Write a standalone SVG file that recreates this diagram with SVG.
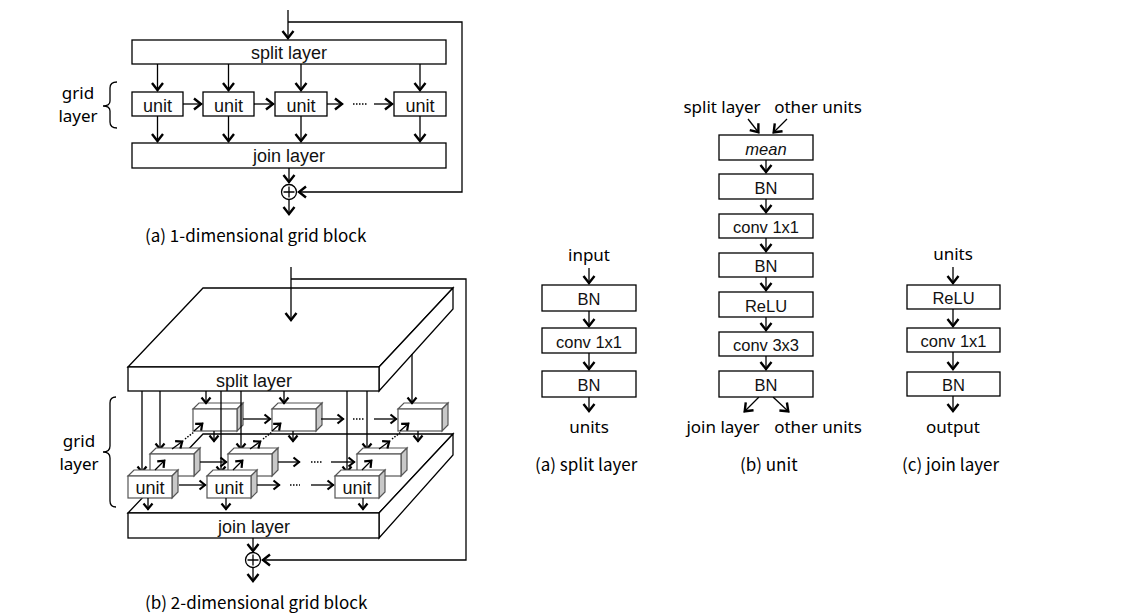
<svg xmlns="http://www.w3.org/2000/svg" xmlns:xlink="http://www.w3.org/1999/xlink" width="1127" height="614" viewBox="0 0 1127 614">
<style>
.bx{fill:#fff;stroke:#000;stroke-width:1.3}
.ln{fill:none;stroke:#000;stroke-width:1.3}
.dt{fill:none;stroke:#000;stroke-width:1.5;stroke-dasharray:1.5 1.5}
.t{font-family:"Liberation Sans",Arial,sans-serif;font-size:16.5px;fill:#111;text-anchor:middle}
.tl{font-family:"Liberation Sans",Arial,sans-serif;font-size:18px;fill:#111;text-anchor:middle}
.lb{font-family:"Noto Sans",sans-serif;font-size:17px;fill:#000;text-anchor:middle}
.cap{font-family:"Noto Sans CJK JP","Noto Sans",sans-serif;font-size:17px;fill:#000}
.cube{stroke:#555;stroke-width:1.2}
</style>
<defs>
<marker id="a" markerUnits="userSpaceOnUse" viewBox="-12 -8 16 16" markerWidth="16" markerHeight="16" refX="1" refY="0" orient="auto" overflow="visible"><path d="M-7,-5.5 L0,0 L-7,5.5" fill="none" stroke="#000" stroke-width="2.4"/></marker>
<marker id="b" markerUnits="userSpaceOnUse" viewBox="-12 -8 16 16" markerWidth="16" markerHeight="16" refX="1" refY="0" orient="auto" overflow="visible"><path d="M-5.5,-4.5 L0,0 L-5.5,4.5" fill="none" stroke="#000" stroke-width="2.2"/></marker>
<g id="cube" class="cube">
<path d="M0,0 L6,-6 L50,-6 L44,0 Z" fill="#fff"/>
<path d="M44,0 L50,-6 L50,16 L44,22 Z" fill="#c8c8c8"/>
<rect x="0" y="0" width="44" height="22" fill="#fff"/>
</g>
</defs>

<!-- ===== (a) 1-dimensional grid block ===== -->
<g id="oneD-connectors">
<polyline class="ln" points="288,22 462,22 462,192 298,192" marker-end="url(#a)"/>
<line class="ln" x1="288" y1="10" x2="288" y2="39" marker-end="url(#a)"/>
<line class="ln" x1="157.5" y1="64" x2="157.5" y2="91" marker-end="url(#a)"/>
<line class="ln" x1="228.5" y1="64" x2="228.5" y2="91" marker-end="url(#a)"/>
<line class="ln" x1="301" y1="64" x2="301" y2="91" marker-end="url(#a)"/>
<line class="ln" x1="420" y1="64" x2="420" y2="91" marker-end="url(#a)"/>
<line class="ln" x1="157.5" y1="116" x2="157.5" y2="142" marker-end="url(#a)"/>
<line class="ln" x1="228.5" y1="116" x2="228.5" y2="142" marker-end="url(#a)"/>
<line class="ln" x1="301" y1="116" x2="301" y2="142" marker-end="url(#a)"/>
<line class="ln" x1="420" y1="116" x2="420" y2="142" marker-end="url(#a)"/>
<line class="ln" x1="183" y1="104" x2="202" y2="104" marker-end="url(#a)"/>
<line class="ln" x1="254" y1="104" x2="274" y2="104" marker-end="url(#a)"/>
<line class="ln" x1="327" y1="104" x2="343" y2="104" marker-end="url(#a)"/>
<line class="dt" x1="353" y1="104" x2="368" y2="104"/>
<line class="ln" x1="374" y1="104" x2="393" y2="104" marker-end="url(#a)"/>
<line class="ln" x1="289" y1="168" x2="289" y2="183" marker-end="url(#a)"/>
<line class="ln" x1="289" y1="200" x2="289" y2="215" marker-end="url(#a)"/>
</g>
<g id="oneD-split"><rect class="bx" x="132" y="40" width="314" height="24"/><text class="tl" x="289" y="59">split layer</text></g>
<g id="oneD-unit1"><rect class="bx" x="132" y="92" width="51" height="24"/><text class="tl" x="157.5" y="112">unit</text></g>
<g id="oneD-unit2"><rect class="bx" x="203" y="92" width="51" height="24"/><text class="tl" x="228.5" y="112">unit</text></g>
<g id="oneD-unit3"><rect class="bx" x="275" y="92" width="52" height="24"/><text class="tl" x="301" y="112">unit</text></g>
<g id="oneD-unit4"><rect class="bx" x="394" y="92" width="52" height="24"/><text class="tl" x="420" y="112">unit</text></g>
<g id="oneD-join"><rect class="bx" x="132" y="143" width="314" height="25"/><text class="tl" x="289" y="162">join layer</text></g>
<g id="oneD-sum"><circle class="bx" cx="289" cy="192" r="7.5"/><path class="ln" d="M283.5,192 H294.5 M289,186.5 V197.5"/></g>
<g id="oneD-brace">
<path class="ln" d="M117,82 Q110,82 110,88 L110,101 Q110,106 103,106 Q110,106 110,111 L110,122 Q110,128 117,128"/>
<text class="lb" x="78" y="99">grid</text>
<text class="lb" x="78" y="122">layer</text>
</g>
<text class="cap" x="145" y="242">(a) 1-dimensional grid block</text>

<!-- ===== (b) 2-dimensional grid block ===== -->
<g id="twoD-loop">
<polyline class="ln" points="291,279 466,279 466,560 262,560" marker-end="url(#a)"/>
</g>
<g id="twoD-join">
<path class="bx" d="M128,513 L203,434 L453,434 L379,513 Z"/>
<path class="bx" d="M379,513 L453,434 L453,455 L379,538 Z"/>
<rect class="bx" x="128" y="513" width="251" height="25"/>
<text class="tl" x="254" y="533">join layer</text>
</g>
<g id="twoD-split">
<path class="bx" d="M128,367 L203,288 L453,288 L379,367 Z"/>
<path class="bx" d="M379,367 L453,288 L453,309 L379,391 Z"/>
<rect class="bx" x="128" y="367" width="251" height="24"/>
<text class="tl" x="254" y="387">split layer</text>
</g>
<g id="twoD-input"><line class="ln" x1="291" y1="267" x2="291" y2="321" marker-end="url(#a)"/></g>

<g id="u-back-1"><use xlink:href="#cube" href="#cube" x="193" y="409"/></g>
<g id="u-back-2"><use xlink:href="#cube" href="#cube" x="272" y="409"/></g>
<g id="u-back-3"><use xlink:href="#cube" href="#cube" x="398" y="409"/></g>

<g id="twoD-connectors-back">
<line class="ln" x1="206" y1="391" x2="206" y2="404" marker-end="url(#b)"/>
<line class="ln" x1="284" y1="391" x2="284" y2="404" marker-end="url(#b)"/>
<line class="ln" x1="412" y1="354" x2="412" y2="404" marker-end="url(#b)"/>
<line class="ln" x1="214" y1="431" x2="214" y2="442" marker-end="url(#b)"/>
<line class="ln" x1="293" y1="431" x2="293" y2="442" marker-end="url(#b)"/>
<line class="ln" x1="418" y1="431" x2="418" y2="442" marker-end="url(#b)"/>
<line class="ln" x1="243" y1="419" x2="271" y2="419" marker-end="url(#b)"/>
<line class="ln" x1="321" y1="419" x2="344" y2="419" marker-end="url(#b)"/>
<line class="dt" x1="353" y1="419" x2="365" y2="419"/>
<line class="ln" x1="374" y1="419" x2="397" y2="419" marker-end="url(#b)"/>
<line class="ln" x1="142" y1="391" x2="142" y2="473" marker-end="url(#b)"/>
<line class="ln" x1="160" y1="391" x2="160" y2="450" marker-end="url(#b)"/>
<line class="ln" x1="221" y1="391" x2="221" y2="473" marker-end="url(#b)"/>
<line class="ln" x1="241" y1="391" x2="241" y2="450" marker-end="url(#b)"/>
<line class="ln" x1="347" y1="391" x2="347" y2="473" marker-end="url(#b)"/>
<line class="ln" x1="367" y1="391" x2="367" y2="450" marker-end="url(#b)"/>
</g>

<g id="u-mid-1"><use xlink:href="#cube" href="#cube" x="150" y="454"/></g>
<g id="u-mid-2"><use xlink:href="#cube" href="#cube" x="228" y="454"/></g>
<g id="u-mid-3"><use xlink:href="#cube" href="#cube" x="357" y="454"/></g>

<g id="twoD-connectors-mid">
<line class="ln" x1="200" y1="462" x2="227" y2="462" marker-end="url(#b)"/>
<line class="ln" x1="278" y1="462" x2="300" y2="462" marker-end="url(#b)"/>
<line class="dt" x1="311" y1="462" x2="322" y2="462"/>
<line class="ln" x1="331" y1="462" x2="355" y2="462" marker-end="url(#b)"/>
<line class="ln" x1="172" y1="449" x2="183" y2="441" marker-end="url(#b)"/>
<line class="dt" x1="185" y1="439" x2="194" y2="432"/>
<line class="ln" x1="194" y1="431" x2="203" y2="423" marker-end="url(#b)"/>
<line class="ln" x1="250" y1="449" x2="261" y2="441" marker-end="url(#b)"/>
<line class="dt" x1="263" y1="439" x2="272" y2="432"/>
<line class="ln" x1="272" y1="431" x2="281" y2="423" marker-end="url(#b)"/>
<line class="ln" x1="379" y1="449" x2="390" y2="441" marker-end="url(#b)"/>
<line class="dt" x1="392" y1="439" x2="401" y2="432"/>
<line class="ln" x1="400" y1="431" x2="409" y2="423" marker-end="url(#b)"/>
</g>

<g id="u-front-1"><use xlink:href="#cube" href="#cube" x="128" y="476"/><text class="tl" x="150" y="494">unit</text></g>
<g id="u-front-2"><use xlink:href="#cube" href="#cube" x="207" y="476"/><text class="tl" x="229" y="494">unit</text></g>
<g id="u-front-3"><use xlink:href="#cube" href="#cube" x="335" y="476"/><text class="tl" x="357" y="494">unit</text></g>

<g id="twoD-connectors-front">
<line class="ln" x1="179" y1="485" x2="206" y2="485" marker-end="url(#b)"/>
<line class="ln" x1="257" y1="485" x2="280" y2="485" marker-end="url(#b)"/>
<line class="dt" x1="290" y1="485" x2="300" y2="485"/>
<line class="ln" x1="311" y1="485" x2="334" y2="485" marker-end="url(#b)"/>
<line class="ln" x1="155" y1="470" x2="165" y2="460" marker-end="url(#b)"/>
<line class="ln" x1="233" y1="470" x2="243" y2="460" marker-end="url(#b)"/>
<line class="ln" x1="362" y1="470" x2="372" y2="460" marker-end="url(#b)"/>
<line class="ln" x1="148" y1="498" x2="148" y2="510" marker-end="url(#b)"/>
<line class="ln" x1="226" y1="498" x2="226" y2="510" marker-end="url(#b)"/>
<line class="ln" x1="363" y1="498" x2="363" y2="510" marker-end="url(#b)"/>
<line class="ln" x1="253" y1="538" x2="253" y2="552" marker-end="url(#a)"/>
<line class="ln" x1="253" y1="568" x2="253" y2="582" marker-end="url(#a)"/>
</g>
<g id="twoD-sum"><circle class="bx" cx="253" cy="560" r="7.5"/><path class="ln" d="M247.5,560 H258.5 M253,554.5 V565.5"/></g>
<g id="twoD-brace">
<path class="ln" d="M116,397 Q110,397 110,403 L110,446 Q110,452 103,452 Q110,452 110,458 L110,501 Q110,507 116,507"/>
<text class="lb" x="79" y="447">grid</text>
<text class="lb" x="79" y="470">layer</text>
</g>
<text class="cap" x="145" y="609">(b) 2-dimensional grid block</text>

<!-- ===== panels ===== -->
<g id="panel-connectors">
<line class="ln" x1="589" y1="268" x2="589" y2="284" marker-end="url(#a)"/>
<line class="ln" x1="589" y1="311" x2="589" y2="327" marker-end="url(#a)"/>
<line class="ln" x1="589" y1="353" x2="589" y2="370" marker-end="url(#a)"/>
<line class="ln" x1="589" y1="397" x2="589" y2="412" marker-end="url(#a)"/>

<line class="ln" x1="748" y1="119" x2="759" y2="133" marker-end="url(#a)"/>
<line class="ln" x1="787" y1="119" x2="773" y2="133" marker-end="url(#a)"/>
<line class="ln" x1="766" y1="160" x2="766" y2="173" marker-end="url(#a)"/>
<line class="ln" x1="766" y1="199" x2="766" y2="213" marker-end="url(#a)"/>
<line class="ln" x1="766" y1="238" x2="766" y2="252" marker-end="url(#a)"/>
<line class="ln" x1="766" y1="277" x2="766" y2="291" marker-end="url(#a)"/>
<line class="ln" x1="766" y1="317" x2="766" y2="331" marker-end="url(#a)"/>
<line class="ln" x1="766" y1="356" x2="766" y2="370" marker-end="url(#a)"/>
<line class="ln" x1="759" y1="397" x2="744" y2="412" marker-end="url(#a)"/>
<line class="ln" x1="773" y1="397" x2="789" y2="412" marker-end="url(#a)"/>

<line class="ln" x1="953" y1="267" x2="953" y2="284" marker-end="url(#a)"/>
<line class="ln" x1="953" y1="309" x2="953" y2="327" marker-end="url(#a)"/>
<line class="ln" x1="953" y1="352" x2="953" y2="370" marker-end="url(#a)"/>
<line class="ln" x1="953" y1="396" x2="953" y2="412" marker-end="url(#a)"/>
</g>

<g id="sp-input"><text class="lb" x="589" y="261">input</text></g>
<g id="sp-bn1"><rect class="bx" x="542" y="285" width="94" height="26"/><text class="t" x="589" y="305">BN</text></g>
<g id="sp-conv"><rect class="bx" x="542" y="328" width="94" height="25"/><text class="t" x="589" y="348">conv 1x1</text></g>
<g id="sp-bn2"><rect class="bx" x="542" y="371" width="94" height="26"/><text class="t" x="589" y="391">BN</text></g>
<g id="sp-units"><text class="lb" x="589" y="433">units</text></g>
<text class="cap" x="535" y="471">(a) split layer</text>

<g id="u-in-split"><text class="lb" x="722" y="113">split layer</text></g>
<g id="u-in-other"><text class="lb" x="818" y="113">other units</text></g>
<g id="u-mean"><rect class="bx" x="719" y="135" width="94" height="25"/><text class="t" x="766" y="155" font-style="italic">mean</text></g>
<g id="u-bn1"><rect class="bx" x="719" y="174" width="94" height="25"/><text class="t" x="766" y="194">BN</text></g>
<g id="u-conv1"><rect class="bx" x="719" y="214" width="94" height="24"/><text class="t" x="766" y="233">conv 1x1</text></g>
<g id="u-bn2"><rect class="bx" x="719" y="253" width="94" height="24"/><text class="t" x="766" y="272">BN</text></g>
<g id="u-relu"><rect class="bx" x="719" y="292" width="94" height="25"/><text class="t" x="766" y="312">ReLU</text></g>
<g id="u-conv3"><rect class="bx" x="719" y="332" width="94" height="24"/><text class="t" x="766" y="351">conv 3x3</text></g>
<g id="u-bn3"><rect class="bx" x="719" y="371" width="94" height="26"/><text class="t" x="766" y="391">BN</text></g>
<g id="u-out-join"><text class="lb" x="723" y="433">join layer</text></g>
<g id="u-out-other"><text class="lb" x="818" y="433">other units</text></g>
<text class="cap" x="740" y="471">(b) unit</text>

<g id="jl-units"><text class="lb" x="953" y="260">units</text></g>
<g id="jl-relu"><rect class="bx" x="907" y="285" width="93" height="24"/><text class="t" x="953.5" y="304">ReLU</text></g>
<g id="jl-conv"><rect class="bx" x="907" y="328" width="93" height="24"/><text class="t" x="953.5" y="347">conv 1x1</text></g>
<g id="jl-bn"><rect class="bx" x="907" y="372" width="93" height="24"/><text class="t" x="953.5" y="391">BN</text></g>
<g id="jl-output"><text class="lb" x="953" y="433">output</text></g>
<text class="cap" x="902" y="471">(c) join layer</text>
</svg>
